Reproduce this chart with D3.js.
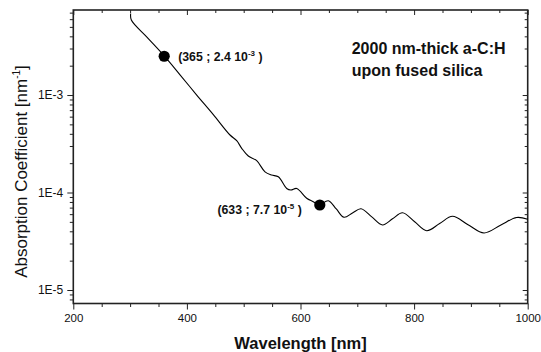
<!DOCTYPE html>
<html>
<head>
<meta charset="utf-8">
<script src="https://cdn.jsdelivr.net/npm/d3@7"></script>
<style>
  html, body { margin: 0; padding: 0; background: #fff; }
  svg { display: block; font-family: "Liberation Sans", Arial, sans-serif; }
</style>
</head>
<body>
<script>
// ---- data ----
const wavelength = [301, 302.2, 330, 359.7, 387.9, 417.3, 446.5, 475.9, 487.7, 496.5, 508.1, 522.9, 537.5, 549.3, 560.9, 575.7, 583, 593.3, 610.9, 622.5, 632.3, 649, 663, 676.6, 691.5, 706.5, 725.5, 744.4, 762, 779.6, 801, 822.2, 845, 867.6, 895, 923.1, 952, 980.6, 1000];
const absorption = [6.85e-3, 5.87e-3, 3.9e-3, 2.53e-3, 1.61e-3, 1.0e-3, 6.3e-4, 3.89e-4, 3.40e-4, 2.84e-4, 2.37e-4, 2.12e-4, 1.63e-4, 1.51e-4, 1.45e-4, 1.10e-4, 1.06e-4, 1.10e-4, 8.73e-5, 8.05e-5, 7.45e-5, 8.24e-5, 6.78e-5, 5.57e-5, 6.17e-5, 6.81e-5, 5.62e-5, 4.65e-5, 5.37e-5, 6.19e-5, 5.01e-5, 4.06e-5, 4.81e-5, 5.70e-5, 4.68e-5, 3.85e-5, 4.62e-5, 5.55e-5, 5.31e-5];

const markerWavelength = [360, 634];
const markerAbsorption = [2.5e-3, 7.45e-5];
const markerTextMain = ["(365 ; 2.4 10", "(633 ; 7.7 10"];
const markerTextSup = ["-3", "-5"];
const markerTextEnd = [" )", " )"];

const xMajorTicks = [200, 400, 600, 800, 1000];
const xMinorTicks = [250, 300, 350, 450, 500, 550, 650, 700, 750, 850, 900, 950];
const yMajorTicks = [1e-5, 1e-4, 1e-3];
const yTickLabels = ["1E-5", "1E-4", "1E-3"];
const yMinorTicks = [8e-6, 9e-6, 2e-5, 3e-5, 4e-5, 5e-5, 6e-5, 7e-5, 8e-5, 9e-5,
                     2e-4, 3e-4, 4e-4, 5e-4, 6e-4, 7e-4, 8e-4, 9e-4,
                     2e-3, 3e-3, 4e-3, 5e-3, 6e-3, 7e-3];

const xTitle = "Wavelength [nm]";
const yTitleMain = "Absorption Coefficient [nm";
const yTitleSup = "-1";
const yTitleEnd = "]";
const noteLines = ["2000 nm-thick a-C:H", "upon fused silica"];

// ---- layout ----
const W = 541, H = 352;
const plotL = 73.3, plotR = 527.7, plotT = 10, plotB = 303.5;

const svg = d3.select("body").append("svg").attr("width", W).attr("height", H);

const x = d3.scaleLinear().domain([200, 1000]).range([plotL, plotR]);
const y = d3.scaleLog().domain([7.27e-6, 7.45e-3]).range([plotB, plotT]);

const axisColor = "#222";
function styleAxis(g) {
  g.select(".domain").remove();
  g.selectAll(".tick line").attr("stroke", axisColor).attr("stroke-width", 1);
  g.selectAll(".tick text").attr("fill", "#111").attr("font-family", "'Liberation Sans', Arial, sans-serif");
}

// bottom axis
svg.append("g").attr("transform", `translate(0,${plotB})`)
  .call(d3.axisBottom(x).tickValues(xMajorTicks).tickFormat(d3.format("d")).tickSize(6).tickPadding(4.5))
  .call(styleAxis).call(g => g.selectAll("text").attr("font-size", 11.5));
svg.append("g").attr("transform", `translate(0,${plotB})`)
  .call(d3.axisBottom(x).tickValues(xMinorTicks).tickFormat("").tickSize(3.5))
  .call(styleAxis);
// top axis (inward)
svg.append("g").attr("transform", `translate(0,${plotT})`)
  .call(d3.axisTop(x).tickValues(xMajorTicks).tickFormat("").tickSize(-5))
  .call(styleAxis);
svg.append("g").attr("transform", `translate(0,${plotT})`)
  .call(d3.axisTop(x).tickValues(xMinorTicks).tickFormat("").tickSize(-3))
  .call(styleAxis);
// left axis
svg.append("g").attr("transform", `translate(${plotL},0)`)
  .call(d3.axisLeft(y).tickValues(yMajorTicks).tickFormat((d, i) => yTickLabels[i]).tickSize(6).tickPadding(4))
  .call(styleAxis).call(g => g.selectAll("text").attr("font-size", 12));
svg.append("g").attr("transform", `translate(${plotL},0)`)
  .call(d3.axisLeft(y).tickValues(yMinorTicks).tickFormat("").tickSize(3.5))
  .call(styleAxis);
// right axis (inward)
svg.append("g").attr("transform", `translate(${plotR},0)`)
  .call(d3.axisRight(y).tickValues(yMajorTicks).tickFormat("").tickSize(-5))
  .call(styleAxis);
svg.append("g").attr("transform", `translate(${plotR},0)`)
  .call(d3.axisRight(y).tickValues(yMinorTicks).tickFormat("").tickSize(-3))
  .call(styleAxis);

// frame
svg.append("rect")
  .attr("x", plotL).attr("y", plotT)
  .attr("width", plotR - plotL).attr("height", plotB - plotT)
  .attr("fill", "none").attr("stroke", axisColor).attr("stroke-width", 1.6);

// curve
const pts = wavelength.map((w, i) => [w, absorption[i]]);
svg.append("path")
  .datum(pts)
  .attr("fill", "none")
  .attr("stroke", "#000")
  .attr("stroke-width", 1.1)
  .attr("d", d3.line().x(d => x(d[0])).y(d => y(d[1])).curve(d3.curveCatmullRom.alpha(0.5)));

// markers
svg.selectAll("circle.mk")
  .data(markerWavelength)
  .join("circle")
  .attr("class", "mk")
  .attr("cx", d => x(d))
  .attr("cy", (d, i) => y(markerAbsorption[i]))
  .attr("r", 5.6)
  .attr("fill", "#000");

// marker labels
const labelOffsets = [[14, 4.5, "start"], [-18, 9, "end"]];
markerWavelength.forEach((w, i) => {
  const t = svg.append("text")
    .attr("x", x(w) + labelOffsets[i][0])
    .attr("y", y(markerAbsorption[i]) + labelOffsets[i][1])
    .attr("text-anchor", labelOffsets[i][2])
    .attr("font-size", 12.3)
    .attr("font-weight", "bold")
    .attr("fill", "#111");
  t.append("tspan").text(markerTextMain[i]);
  t.append("tspan").attr("font-size", 8).attr("dy", -5).text(markerTextSup[i]);
  t.append("tspan").attr("dy", 5).text(markerTextEnd[i]);
});

// annotation
noteLines.forEach((s, i) => {
  svg.append("text")
    .attr("x", 351.7)
    .attr("y", 54.3 + i * 21.8)
    .attr("font-size", 16)
    .attr("font-weight", "bold")
    .attr("fill", "#111")
    .text(s);
});

// axis titles
svg.append("text")
  .attr("x", (plotL + plotR) / 2)
  .attr("y", 348.5)
  .attr("text-anchor", "middle")
  .attr("font-size", 16.5)
  .attr("font-weight", "bold")
  .attr("fill", "#111")
  .text(xTitle);

const yt = svg.append("text")
  .attr("transform", "translate(26.5,171.5) rotate(-90)")
  .attr("text-anchor", "middle")
  .attr("font-size", 17)
  .attr("fill", "#111");
yt.append("tspan").text(yTitleMain);
yt.append("tspan").attr("font-size", 10).attr("dy", -7).text(yTitleSup);
yt.append("tspan").attr("dy", 7).text(yTitleEnd);
</script>
</body>
</html>
